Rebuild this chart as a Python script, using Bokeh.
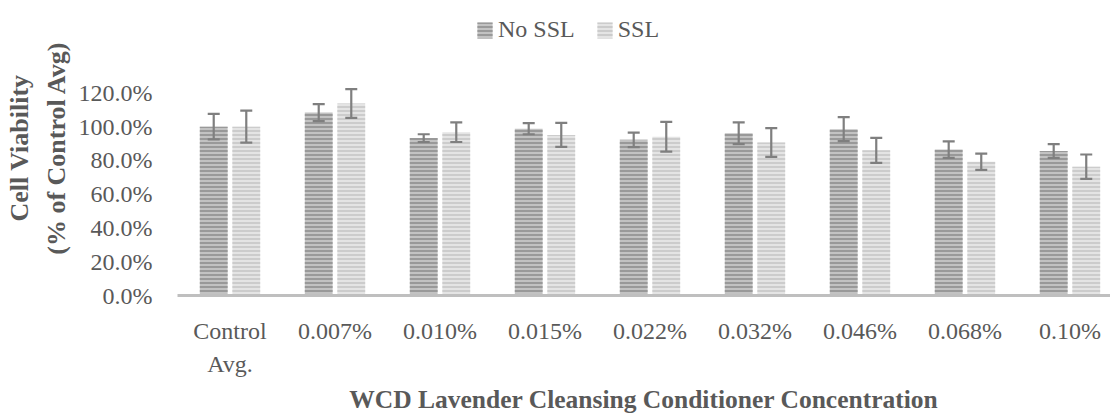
from bokeh.plotting import figure
from bokeh.models import (ColumnDataSource, Range1d, FixedTicker, NumeralTickFormatter,
                          Whisker, TeeHead, Legend, LegendItem)
from bokeh.embed import file_html
from bokeh.resources import INLINE

categories = ["Control\nAvg.", "0.007%", "0.010%", "0.015%", "0.022%",
              "0.032%", "0.046%", "0.068%", "0.10%"]
no_ssl = [1.000, 1.083, 0.932, 0.988, 0.922, 0.961, 0.985, 0.864, 0.856]
no_ssl_err = [0.075, 0.050, 0.023, 0.033, 0.043, 0.064, 0.071, 0.049, 0.041]
ssl = [1.000, 1.137, 0.967, 0.951, 0.940, 0.906, 0.860, 0.792, 0.763]
ssl_err = [0.095, 0.085, 0.058, 0.071, 0.088, 0.085, 0.074, 0.048, 0.072]
y_ticks = [0.0, 0.2, 0.4, 0.6, 0.8, 1.0, 1.2]

FONT = "Liberation Serif"
TXT = "#595959"
OFF = 0.155
BW = 0.265

centers = [i + 0.5 for i in range(len(categories))]

src_a = ColumnDataSource(dict(
    x=[c - OFF for c in centers], top=no_ssl,
    upper=[v + e for v, e in zip(no_ssl, no_ssl_err)],
    lower=[v - e for v, e in zip(no_ssl, no_ssl_err)]))
src_b = ColumnDataSource(dict(
    x=[c + OFF for c in centers], top=ssl,
    upper=[v + e for v, e in zip(ssl, ssl_err)],
    lower=[v - e for v, e in zip(ssl, ssl_err)]))

# frame spans the whole top of the figure; axis ticks stop at 120%
p = figure(width=1110, height=417, output_backend="svg", toolbar_location=None,
           x_range=Range1d(0, 8.886), y_range=Range1d(0, 1.747),
           min_border_left=177, min_border_right=0, min_border_top=0,
           min_border_bottom=119)
p.outline_line_color = None
p.xgrid.visible = False
p.ygrid.visible = False

ra = p.vbar(x="x", top="top", width=BW, source=src_a, fill_color="#c2c2c2",
            line_color=None, hatch_pattern="horizontal_line", hatch_color="#8e8e8e",
            hatch_scale=4, hatch_weight=1.6)
rb = p.vbar(x="x", top="top", width=BW, source=src_b, fill_color="#e4e4e4",
            line_color=None, hatch_pattern="horizontal_line", hatch_color="#c6c6c6",
            hatch_scale=4, hatch_weight=1.6)

for s in (src_a, src_b):
    w = Whisker(base="x", upper="upper", lower="lower", source=s, level="overlay",
                line_color="#7f7f7f", line_width=2.2,
                upper_head=TeeHead(size=12, line_color="#7f7f7f", line_width=2.2),
                lower_head=TeeHead(size=12, line_color="#7f7f7f", line_width=2.2))
    p.add_layout(w)

# x axis
p.xaxis.ticker = FixedTicker(ticks=centers)
p.xaxis.major_label_overrides = {c: lab for c, lab in zip(centers, categories)}
p.xaxis.axis_line_color = "#bfbfbf"
p.xaxis.axis_line_width = 3
p.xaxis.major_tick_line_color = None
p.xaxis.minor_tick_line_color = None
p.xaxis.major_tick_out = 0
p.xaxis.major_tick_in = 0
p.xaxis.minor_tick_out = 0
p.xaxis.major_label_standoff = 22
p.xaxis.major_label_text_font = FONT
p.xaxis.major_label_text_font_size = "24px"
p.xaxis.major_label_text_line_height = 1.3
p.xaxis.major_label_text_color = TXT
p.xaxis.axis_label = "WCD Lavender Cleansing Conditioner Concentration"
p.xaxis.axis_label_text_font = FONT
p.xaxis.axis_label_text_font_size = "25.5px"
p.xaxis.axis_label_text_font_style = "bold"
p.xaxis.axis_label_text_color = TXT
p.xaxis.axis_label_standoff = 5

# y axis
p.yaxis.ticker = FixedTicker(ticks=y_ticks)
p.yaxis.formatter = NumeralTickFormatter(format="0.0%")
p.yaxis.axis_line_color = None
p.yaxis.major_tick_line_color = None
p.yaxis.minor_tick_line_color = None
p.yaxis.major_tick_out = 0
p.yaxis.major_tick_in = 0
p.yaxis.minor_tick_out = 0
p.yaxis.major_label_standoff = 25
p.yaxis.major_label_text_font = FONT
p.yaxis.major_label_text_font_size = "24px"
p.yaxis.major_label_text_color = TXT
p.yaxis.axis_label = "Cell Viability\n(% of Control Avg)"
p.yaxis.axis_label_text_font = FONT
p.yaxis.axis_label_text_font_size = "26px"
p.yaxis.axis_label_text_line_height = 1.25
p.yaxis.axis_label_text_font_style = "bold"
p.yaxis.axis_label_text_color = TXT
p.yaxis.axis_label_standoff = 5

legend = Legend(items=[LegendItem(label="No SSL", renderers=[ra]),
                       LegendItem(label="SSL", renderers=[rb])],
                orientation="horizontal", location=(298, 252),
                padding=0, margin=0, spacing=20, label_standoff=4,
                glyph_width=19, glyph_height=20,
                label_text_font=FONT, label_text_font_size="24px",
                label_text_color=TXT, border_line_color=None,
                background_fill_alpha=0)
p.add_layout(legend, "center")

open("out.html", "w").write(file_html(p, INLINE))
